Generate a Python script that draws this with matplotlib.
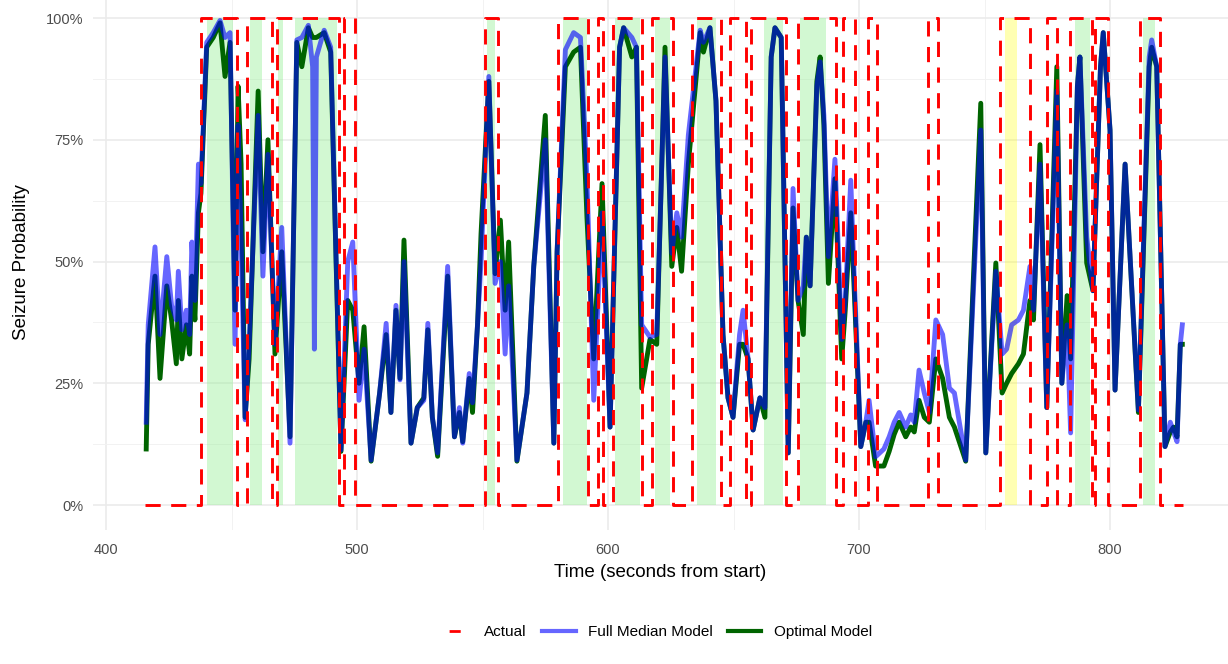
import matplotlib
matplotlib.use("Agg")
import matplotlib.pyplot as plt
from matplotlib.lines import Line2D

plt.rcParams['font.family'] = ['Liberation Sans', 'DejaVu Sans']

# actual seizure windows (seconds), value 1 inside
seizure_start = [438, 456, 468, 495, 551, 580, 596, 602, 617.5, 633.5, 648.5, 657,
                 675.5, 693.5, 703.5, 727.5, 756, 775, 784, 794, 812]
seizure_end = [452, 466, 493, 499, 556, 592, 598, 613.5, 626, 645, 655, 671,
               691, 698.5, 707, 731.5, 768, 779, 793, 799, 820]
t_first, t_last = 415.5, 829

# shaded windows
green_start = [440.2, 457.4, 468.5, 475.3, 551.8, 582, 602.8, 618.7, 635.5, 662, 676.5, 786, 813]
green_end = [450.6, 462.2, 470.5, 492, 555, 591.6, 612.7, 624.7, 643, 669.7, 686.9, 792, 818]
yellow_start = [758]
yellow_end = [763]

# model probabilities
times = [416.0, 416.8, 419.5, 421.5, 424.2, 426.1, 428.0, 428.8, 430.2, 432.0,
         433.3, 434.2, 435.4, 436.8, 437.8, 440.1, 442.7, 445.4, 447.4, 449.4,
         451.4, 452.6, 453.8, 455.4, 457.0, 460.6, 462.5, 464.5, 467.3, 470.0,
         473.3, 476.0, 478.0, 480.6, 482.3, 483.0, 483.8, 486.9, 489.5, 493.6,
         496.3, 498.3, 500.8, 502.8, 505.6, 509.0, 511.6, 513.5, 515.5, 517.1,
         518.7, 521.5, 524.0, 526.6, 528.2, 530.0, 532.1, 536.1, 538.8, 540.8,
         542.1, 544.7, 546.0, 548.0, 549.4, 552.5, 555.0, 557.1, 559.0, 560.4,
         563.7, 567.7, 570.4, 575.0, 578.4, 579.7, 583.0, 586.3, 589.0, 591.6,
         594.3, 597.6, 600.8, 604.6, 606.2, 609.5, 611.3, 613.4, 616.7, 619.4,
         622.7, 625.4, 627.4, 629.3, 632.0, 636.7, 638.0, 640.6, 643.0, 645.8,
         647.8, 649.8, 652.4, 653.8, 655.8, 657.8, 660.5, 662.5, 665.0, 666.5,
         669.0, 671.8, 673.7, 675.7, 677.8, 679.0, 680.5, 683.2, 684.5, 686.0,
         687.8, 690.4, 693.1, 694.5, 696.7, 698.0, 700.7, 702.7, 704.0, 706.6,
         709.9, 712.0, 714.0, 716.0, 718.6, 720.6, 722.0, 723.9, 726.0, 728.0,
         730.6, 733.3, 736.0, 738.0, 742.5, 748.5, 750.5, 754.5, 757.0, 758.8,
         760.8, 763.5, 765.5, 768.1, 769.5, 772.1, 774.8, 778.8, 780.8, 782.9,
         784.3, 787.0, 788.0, 790.7, 793.2, 796.2, 797.3, 800.0, 802.0, 806.0,
         811.3, 815.6, 816.6, 818.6, 821.9, 824.0, 825.3, 826.7, 828.0, 828.8]
full_median = [0.17, 0.37, 0.53, 0.35, 0.51, 0.41, 0.38, 0.48, 0.36, 0.40,
               0.35, 0.54, 0.42, 0.70, 0.66, 0.95, 0.97, 0.995, 0.96, 0.97,
               0.33, 0.78, 0.55, 0.175, 0.33, 0.80, 0.47, 0.72, 0.33, 0.57,
               0.127, 0.955, 0.96, 0.985, 0.90, 0.32, 0.92, 0.975, 0.94, 0.113,
               0.50, 0.54, 0.215, 0.32, 0.092, 0.23, 0.373, 0.19, 0.41, 0.257,
               0.50, 0.127, 0.20, 0.215, 0.373, 0.18, 0.107, 0.49, 0.14, 0.20,
               0.127, 0.27, 0.21, 0.37, 0.50, 0.88, 0.455, 0.50, 0.31, 0.45,
               0.092, 0.23, 0.49, 0.75, 0.127, 0.52, 0.935, 0.97, 0.96, 0.67,
               0.215, 0.60, 0.16, 0.94, 0.98, 0.96, 0.94, 0.37, 0.345, 0.35,
               0.92, 0.517, 0.60, 0.55, 0.76, 0.975, 0.95, 0.98, 0.83, 0.35,
               0.22, 0.18, 0.35, 0.40, 0.30, 0.154, 0.22, 0.20, 0.92, 0.98,
               0.96, 0.107, 0.65, 0.42, 0.45, 0.55, 0.45, 0.86, 0.91, 0.80,
               0.51, 0.71, 0.34, 0.42, 0.667, 0.48, 0.12, 0.17, 0.215, 0.099,
               0.115, 0.14, 0.17, 0.19, 0.16, 0.185, 0.17, 0.277, 0.23, 0.19,
               0.38, 0.35, 0.24, 0.23, 0.092, 0.77, 0.107, 0.48, 0.31, 0.32,
               0.37, 0.38, 0.40, 0.49, 0.40, 0.70, 0.20, 0.85, 0.25, 0.37,
               0.148, 0.86, 0.92, 0.55, 0.44, 0.90, 0.97, 0.77, 0.236, 0.70,
               0.195, 0.92, 0.955, 0.90, 0.12, 0.17, 0.15, 0.13, 0.33, 0.37]
optimal = [0.115, 0.33, 0.47, 0.26, 0.45, 0.38, 0.29, 0.42, 0.30, 0.37,
           0.31, 0.47, 0.38, 0.60, 0.64, 0.94, 0.96, 0.99, 0.88, 0.95,
           0.40, 0.86, 0.70, 0.18, 0.30, 0.85, 0.52, 0.75, 0.31, 0.52,
           0.14, 0.95, 0.90, 0.98, 0.96, 0.96, 0.96, 0.97, 0.93, 0.11,
           0.42, 0.40, 0.25, 0.366, 0.09, 0.23, 0.35, 0.19, 0.40, 0.26,
           0.544, 0.127, 0.20, 0.22, 0.36, 0.18, 0.10, 0.47, 0.14, 0.19,
           0.13, 0.26, 0.19, 0.37, 0.557, 0.87, 0.475, 0.585, 0.40, 0.54,
           0.09, 0.23, 0.49, 0.80, 0.127, 0.52, 0.90, 0.93, 0.94, 0.59,
           0.30, 0.66, 0.16, 0.94, 0.98, 0.92, 0.94, 0.24, 0.34, 0.33,
           0.94, 0.49, 0.57, 0.48, 0.70, 0.97, 0.93, 0.98, 0.83, 0.35,
           0.22, 0.18, 0.33, 0.33, 0.30, 0.154, 0.22, 0.18, 0.92, 0.98,
           0.96, 0.107, 0.61, 0.42, 0.35, 0.55, 0.45, 0.87, 0.92, 0.78,
           0.455, 0.67, 0.30, 0.40, 0.60, 0.45, 0.12, 0.17, 0.17, 0.08,
           0.08, 0.11, 0.145, 0.17, 0.14, 0.16, 0.15, 0.215, 0.18, 0.17,
           0.30, 0.26, 0.18, 0.16, 0.09, 0.825, 0.107, 0.497, 0.23, 0.25,
           0.27, 0.29, 0.31, 0.42, 0.38, 0.74, 0.20, 0.90, 0.25, 0.43,
           0.30, 0.86, 0.92, 0.497, 0.44, 0.90, 0.97, 0.77, 0.236, 0.70,
           0.19, 0.90, 0.94, 0.90, 0.12, 0.15, 0.16, 0.14, 0.33, 0.33]

# step line for the actual label
actual_x = [t_first]
actual_y = [0]
for s, e in zip(seizure_start, seizure_end):
    actual_x += [s, s, e, e]
    actual_y += [0, 1, 1, 0]
actual_x.append(t_last)
actual_y.append(0)

fig = plt.figure(figsize=(12.28, 6.64), dpi=100)
ax = fig.add_axes([93 / 1228, 134.5 / 664, 1 - 93 / 1228, 529.5 / 664])

for s, e in zip(green_start, green_end):
    ax.fill_between([s, e], 0, 1, color='#90EE90', alpha=0.4, lw=0, zorder=1)
for s, e in zip(yellow_start, yellow_end):
    ax.fill_between([s, e], 0, 1, color='#FFFF00', alpha=0.3, lw=0, zorder=1)

ax.plot(times, optimal, color='#006400', lw=3.5, solid_joinstyle='round', zorder=2)
ax.plot(times, full_median, color='#0000FF', alpha=0.6, lw=3.5, solid_joinstyle='round', zorder=3)
ax.plot(actual_x, actual_y, color='#FF0000', lw=2.1, dashes=(5.2, 3.6), zorder=4)

ax.set_xlim(394.8, 847.0)
ax.set_ylim(-0.0503, 1.037)
ax.set_xticks([400, 500, 600, 700, 800])
ax.set_xticks([450, 550, 650, 750], minor=True)
ax.set_yticks([0, 0.25, 0.5, 0.75, 1.0])
ax.set_yticklabels(['0%', '25%', '50%', '75%', '100%'])
ax.set_yticks([0.125, 0.375, 0.625, 0.875], minor=True)
ax.set_axisbelow(True)
ax.grid(which='major', color='#EBEBEB', lw=1.2)
ax.grid(which='minor', color='#F2F2F2', lw=0.7)
for sp in ax.spines.values():
    sp.set_visible(False)
ax.tick_params(which='both', length=0, labelsize=10.5, labelcolor='#4D4D4D')
ax.tick_params(axis='x', pad=10)
ax.tick_params(axis='y', pad=7)

ax.set_xlabel('Time (seconds from start)', fontsize=13.5, labelpad=5)
fig.text(22 / 1228, 1 - 262 / 664, 'Seizure Probability', rotation=90,
         ha='center', va='center', fontsize=13.5)

handles = [
    Line2D([], [], color='#FF0000', lw=2, linestyle=(8, (4, 8))),
    Line2D([], [], color='#0000FF', alpha=0.6, lw=3),
    Line2D([], [], color='#006400', lw=3),
]
fig.legend(handles, ['Actual', 'Full Median Model', 'Optimal Model'],
           loc='center', bbox_to_anchor=(655 / 1228, 1 - 632 / 664), ncol=3,
           frameon=False, fontsize=11, handlelength=2.2, columnspacing=1.0,
           handletextpad=0.8)

fig.savefig('out.png', dpi=100, facecolor='white')
